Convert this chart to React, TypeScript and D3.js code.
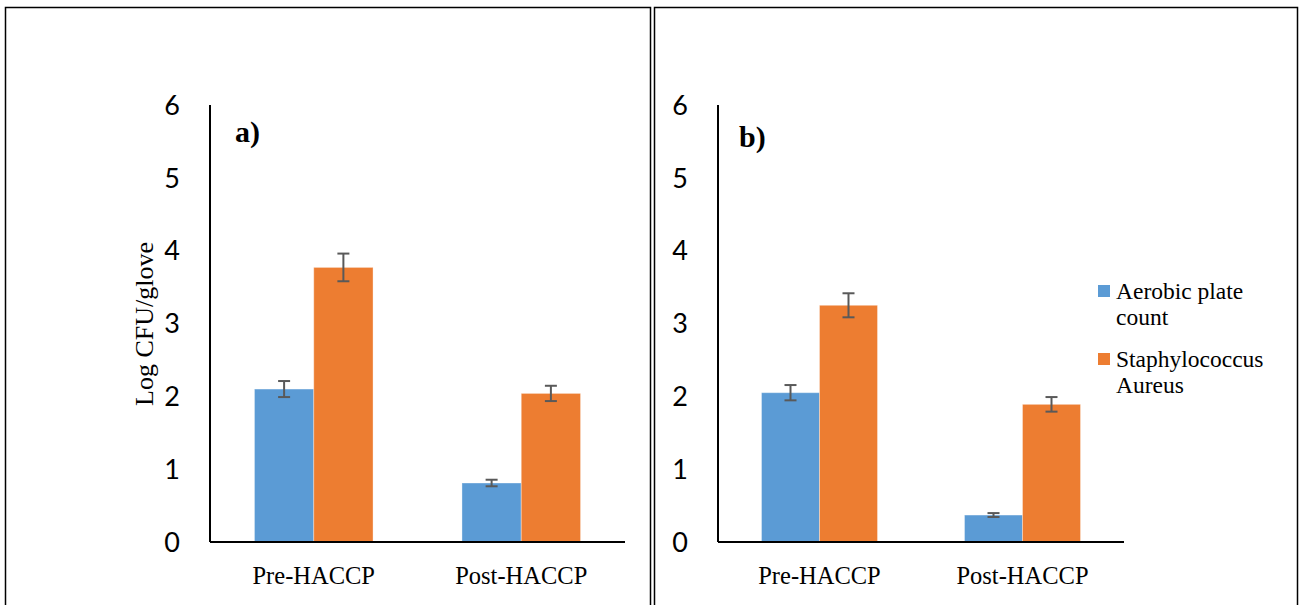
import React from 'react';
import * as d3 from 'd3';

const categories = ['Pre-HACCP', 'Post-HACCP'];
const seriesNames = ['Aerobic plate count', 'Staphylococcus Aureus'];
const legendLines = [['Aerobic plate', 'count'], ['Staphylococcus', 'Aureus']];
const colors = ['#5B9BD5', '#ED7D31'];
const yTicks = [0, 1, 2, 3, 4, 5, 6];

// panel a
const aAerobic = [2.10, 0.81];
const aAerobicErr = [0.11, 0.045];
const aStaph = [3.77, 2.04];
const aStaphErr = [0.19, 0.105];

// panel b
const bAerobic = [2.05, 0.37];
const bAerobicErr = [0.105, 0.027];
const bStaph = [3.25, 1.89];
const bStaphErr = [0.165, 0.10];

const W = 1300;
const H = 605;
const serif = "'Liberation Serif', 'Times New Roman', serif";
const y = d3.scaleLinear().domain([0, 6]).range([542, 105]);

interface PanelProps {
  x0: number;
  x1: number;
  label: string;
  labelX: number;
  labelY: number;
  values: number[][];
  errs: number[][];
}

const Panel: React.FC<PanelProps> = ({ x0, x1, label, labelX, labelY, values, errs }) => {
  const x = d3.scaleBand<string>()
    .domain(categories)
    .range([x0, x1])
    .paddingInner(1.5 / 3.5)
    .paddingOuter(0.75 / 3.5);
  const xs = d3.scaleBand<string>()
    .domain(seriesNames)
    .range([0, x.bandwidth()]);

  return (
    <g>
      {categories.map((c, ci) =>
        seriesNames.map((s, si) => {
          const v = values[si][ci];
          const e = errs[si][ci];
          const bx = (x(c) ?? 0) + (xs(s) ?? 0);
          const cx = bx + xs.bandwidth() / 2;
          return (
            <g key={c + s}>
              <rect x={bx} y={y(v)} width={xs.bandwidth()} height={y(0) - y(v)}
                fill={colors[si]} stroke="#ffffff" strokeOpacity={0.35} strokeWidth={1} />
              <g stroke="#595959" strokeWidth={2}>
                <line x1={cx} x2={cx} y1={y(v + e)} y2={y(v - e)} />
                <line x1={cx - 6} x2={cx + 6} y1={y(v + e)} y2={y(v + e)} />
                <line x1={cx - 6} x2={cx + 6} y1={y(v - e)} y2={y(v - e)} />
              </g>
            </g>
          );
        })
      )}
      <line x1={x0} x2={x0} y1={y(6)} y2={y(0)} stroke="#000" strokeWidth={2} />
      <line x1={x0} x2={x1} y1={y(0)} y2={y(0)} stroke="#000" strokeWidth={2} />
      {yTicks.map(t => (
        <text key={t} x={x0 - 30} y={y(t)} dy="0.36em" textAnchor="end"
          fontFamily="Lato, 'Open Sans', sans-serif" fontSize={27} fill="#000">{t}</text>
      ))}
      {categories.map(c => (
        <text key={c} x={(x(c) ?? 0) + x.bandwidth() / 2} y={584} textAnchor="middle"
          fontFamily={serif} fontSize={24.5} fill="#000">{c}</text>
      ))}
      <text x={labelX} y={labelY} fontFamily={serif}
        fontSize={30} fontWeight="bold" fill="#000">{label}</text>
    </g>
  );
};

const App: React.FC = () => {
  return (
    <svg width={W} height={H} style={{ position: 'absolute', left: 0, top: 0, background: '#fff' }}>
      <rect x={0} y={0} width={W} height={H} fill="#fff" />
      {/* table cell borders */}
      <rect x={5.5} y={7.5} width={645} height={610} fill="none" stroke="#000" strokeWidth={1.5} />
      <rect x={654.5} y={7.5} width={643} height={610} fill="none" stroke="#000" strokeWidth={1.5} />

      <Panel x0={210} x1={625} label="a)" labelX={235} labelY={142}
        values={[aAerobic, aStaph]} errs={[aAerobicErr, aStaphErr]} />
      <Panel x0={718} x1={1124} label="b)" labelX={739} labelY={147}
        values={[bAerobic, bStaph]} errs={[bAerobicErr, bStaphErr]} />

      <text transform="translate(153,324) rotate(-90)" textAnchor="middle"
        fontFamily={serif} fontSize={26} fill="#000">
        Log CFU/glove
      </text>

      {legendLines.map((lines, i) => (
        <g key={i} transform={`translate(1098,${285 + i * 68})`}>
          <rect x={0} y={0} width={12} height={12} fill={colors[i]} />
          {lines.map((l, li) => (
            <text key={li} x={18} y={14 + li * 26}
              fontFamily={serif} fontSize={23.5} fill="#000">{l}</text>
          ))}
        </g>
      ))}
    </svg>
  );
};

export default App;
